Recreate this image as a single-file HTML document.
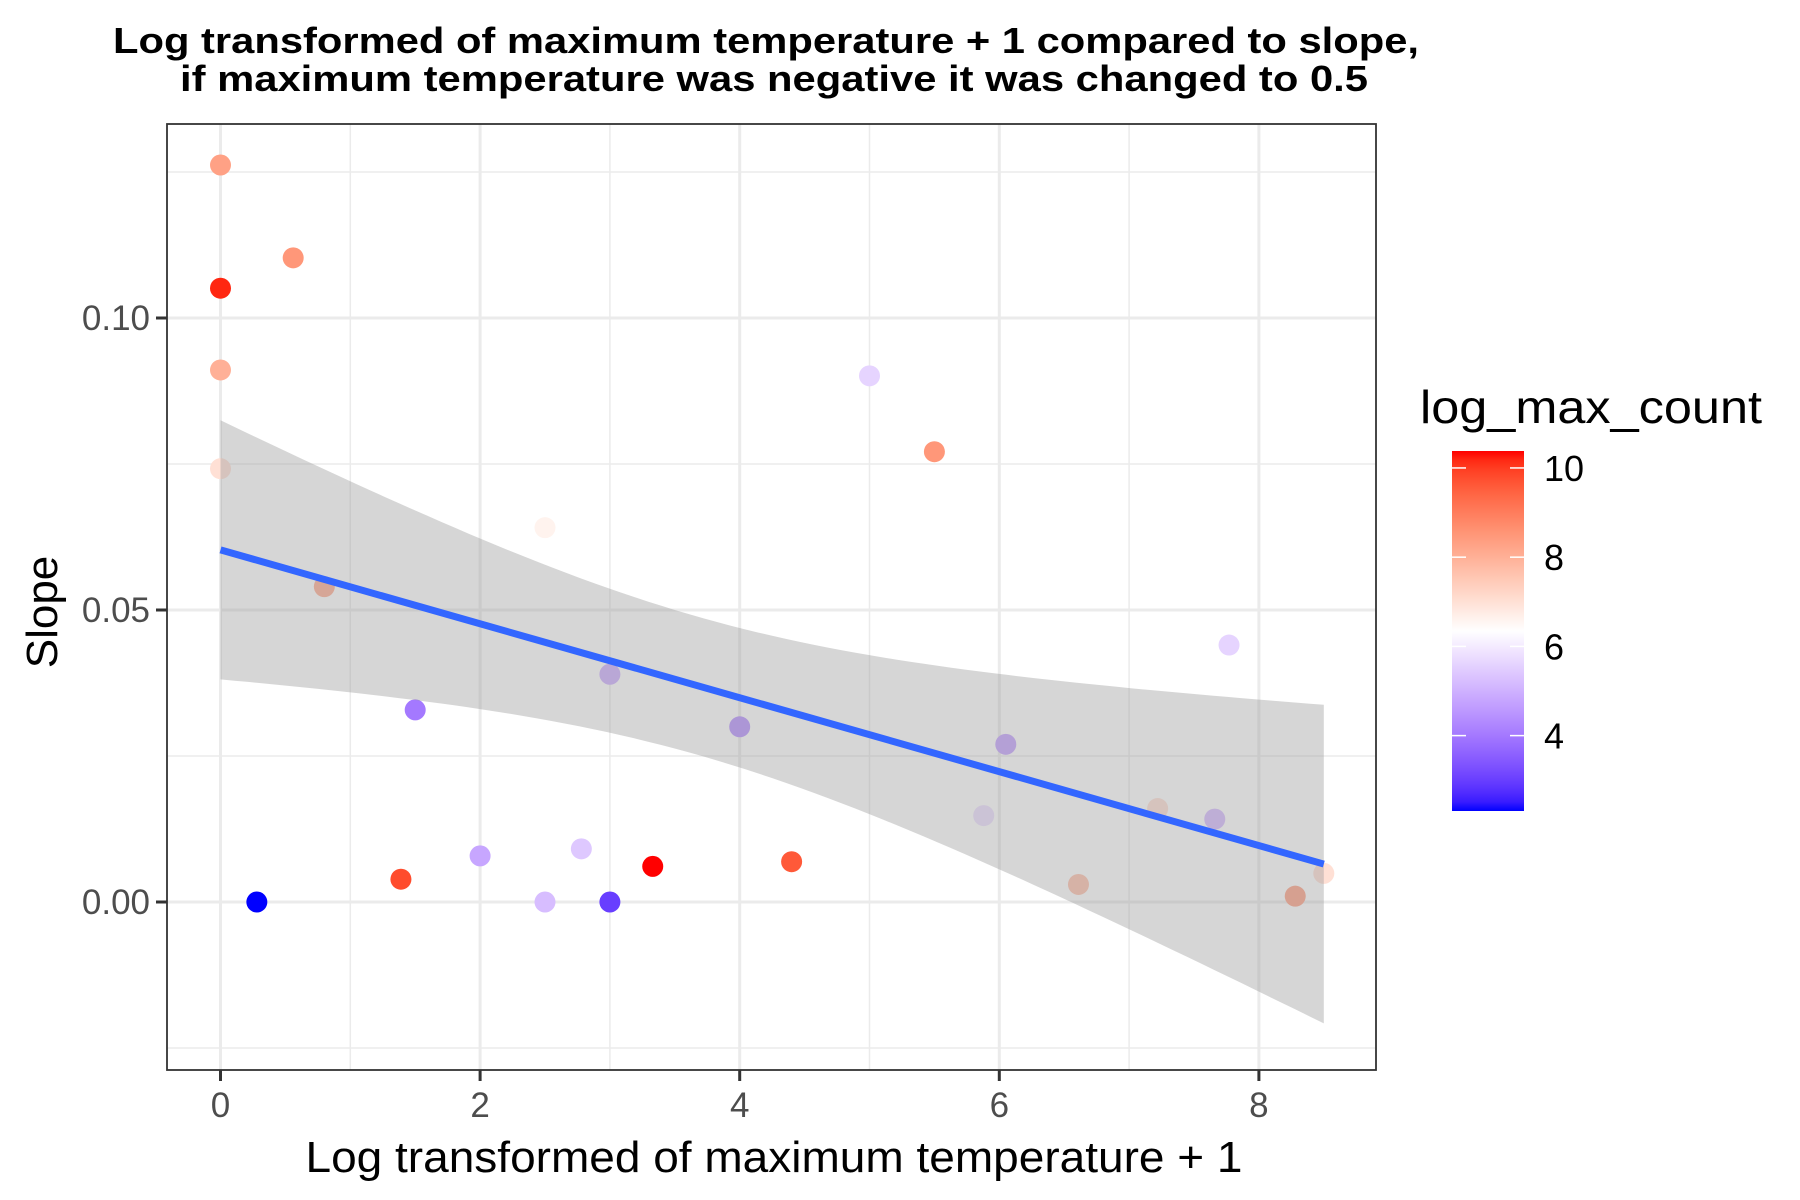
<!DOCTYPE html>
<html><head><meta charset="utf-8"><style>
html,body{margin:0;padding:0;background:#fff;}
svg{display:block;font-family:"Liberation Sans",Arial,sans-serif;}
</style></head><body>
<svg id="chart" width="1800" height="1200" viewBox="0 0 1800 1200" xmlns="http://www.w3.org/2000/svg">
<rect width="1800" height="1200" fill="#fff"/>
<text x="766" y="53" text-anchor="middle" font-size="36" font-weight="bold" textLength="1306" lengthAdjust="spacingAndGlyphs">Log transformed of maximum temperature + 1 compared to slope,</text>
<text x="774" y="91" text-anchor="middle" font-size="36" font-weight="bold" textLength="1188" lengthAdjust="spacingAndGlyphs">if maximum temperature was negative it was changed to 0.5</text>
<g id="grid"></g>
<g id="points"></g>
<g id="fit"></g>
<rect x="167" y="124" width="1209" height="946" fill="none" stroke="#333" stroke-width="1.8"/>
<g id="axes"></g>
<text x="774" y="1172" text-anchor="middle" font-size="44" textLength="937" lengthAdjust="spacingAndGlyphs">Log transformed of maximum temperature + 1</text>
<text x="0" y="0" transform="translate(57,612) rotate(-90)" text-anchor="middle" font-size="44">Slope</text>
<g id="legend">
<text x="1420" y="423" font-size="46" textLength="342" lengthAdjust="spacingAndGlyphs">log_max_count</text>
</g>
</svg>
<script>
const xVals = [0,0.56,0,0,0,2.5,0.8,1.5,3.0,4.0,5.0,5.5,6.05,5.88,6.61,7.22,7.66,7.77,8.28,8.5,0.28,1.39,2.0,2.5,2.78,3.0,3.33,4.4];
const yVals = [0.1262,0.1103,0.1051,0.0911,0.0742,0.0641,0.054,0.0329,0.039,0.030,0.0901,0.0771,0.027,0.0148,0.003,0.016,0.0142,0.044,0.001,0.0049,0,0.0039,0.0079,0,0.0091,0,0.0061,0.0069];
const colorVals = [8.3,8.5,10.2,8.0,7.0,6.6,8.0,4.0,5.0,4.5,5.6,8.5,4.8,5.8,7.6,7.0,5.2,5.6,8.2,7.0,2.3,9.8,4.8,5.2,5.4,3.0,10.4,9.6];
const xTicks = [0,2,4,6,8];
const xMinor = [1,3,5,7];
const yTicks = [0,0.05,0.10];
const yTickLabels = ["0.00","0.05","0.10"];
const yMinor = [-0.025,0.025,0.075,0.125];
const fitCoef = [0.0603,-0.00633];
const fitSe = [0.00014,0.000026,3.68];
const fitRange = [0,8.5];
const colorRange = [2.31,10.38];
const colorMid = 6.345;
const legendTicks = [4,6,8,10];

const NS="http://www.w3.org/2000/svg";
const L=167,R=1376,T=124,B=1070;
const xs=v=>220.5+v*129.8;
const ys=v=>902-v*5840;
function mk(tag,attrs,parent){const e=document.createElementNS(NS,tag);for(const k in attrs)e.setAttribute(k,attrs[k]);parent.appendChild(e);return e;}

function toLin(c){c/=255;return c<=0.04045?c/12.92:Math.pow((c+0.055)/1.055,2.4);}
function fromLin(c){c=c<=0.0031308?12.92*c:1.055*Math.pow(c,1/2.4)-0.055;return Math.max(0,Math.min(255,Math.round(c*255)));}
function rgb2lab(r,g,b){r=toLin(r);g=toLin(g);b=toLin(b);
 let X=(r*0.4124+g*0.3576+b*0.1805)/0.95047,Y=(r*0.2126+g*0.7152+b*0.0722),Z=(r*0.0193+g*0.1192+b*0.9505)/1.08883;
 const f=t=>t>0.008856?Math.cbrt(t):7.787*t+16/116;X=f(X);Y=f(Y);Z=f(Z);return [116*Y-16,500*(X-Y),200*(Y-Z)];}
function lab2rgb(l,a,bb){let Y=(l+16)/116,X=a/500+Y,Z=Y-bb/200;
 const f=t=>t*t*t>0.008856?t*t*t:(t-16/116)/7.787;X=f(X)*0.95047;Y=f(Y);Z=f(Z)*1.08883;
 const r=X*3.2406+Y*-1.5372+Z*-0.4986,g=X*-0.9689+Y*1.8758+Z*0.0415,b=X*0.0557+Y*-0.2040+Z*1.0570;
 return `rgb(${fromLin(r)},${fromLin(g)},${fromLin(b)})`;}
const labLow=rgb2lab(0,0,255),labMid=rgb2lab(255,255,255),labHigh=rgb2lab(255,0,0);
function colorOf(v){const d=Math.max(colorRange[1]-colorMid,colorMid-colorRange[0]);
 let t=(v-colorMid)/d;t=Math.max(-1,Math.min(1,t));const end=t<0?labLow:labHigh;const u=Math.abs(t);
 return lab2rgb(labMid[0]+(end[0]-labMid[0])*u,labMid[1]+(end[1]-labMid[1])*u,labMid[2]+(end[2]-labMid[2])*u);}

const grid=document.getElementById('grid');
mk('rect',{x:L,y:T,width:R-L,height:B-T,fill:'#fff'},grid);
yMinor.forEach(v=>{const e=mk('line',{x1:L,x2:R,y1:ys(v),y2:ys(v),stroke:'#ebebeb','stroke-width':1.5},grid);

});
xMinor.forEach(v=>{const e=mk('line',{x1:xs(v),x2:xs(v),y1:T,y2:B,stroke:'#ebebeb','stroke-width':1.5},grid);

});
yTicks.forEach(v=>{const e=mk('line',{x1:L,x2:R,y1:ys(v),y2:ys(v),stroke:'#ebebeb','stroke-width':3},grid);

});
xTicks.forEach(v=>{const e=mk('line',{x1:xs(v),x2:xs(v),y1:T,y2:B,stroke:'#ebebeb','stroke-width':3},grid);

});

const pts=document.getElementById('points');
xVals.forEach((x,i)=>{const c=mk('circle',{cx:xs(x),cy:ys(yVals[i]),r:10.5,fill:colorOf(colorVals[i])},pts);

});

const fit=document.getElementById('fit');
const N=80;let up=[],lo=[];
for(let i=0;i<=N;i++){const x=fitRange[0]+(fitRange[1]-fitRange[0])*i/N;const yv=fitCoef[0]+fitCoef[1]*x;
 const h=Math.sqrt(fitSe[0]+fitSe[1]*(x-fitSe[2])*(x-fitSe[2]));up.push([xs(x),ys(yv+h)]);lo.push([xs(x),ys(yv-h)]);}
const poly=up.concat(lo.reverse()).map(p=>p[0].toFixed(1)+','+p[1].toFixed(1)).join(' ');
const rib=mk('polygon',{points:poly,fill:'#999999','fill-opacity':0.4},fit);


const ln=mk('line',{x1:xs(fitRange[0]),y1:ys(fitCoef[0]+fitCoef[1]*fitRange[0]),x2:xs(fitRange[1]),y2:ys(fitCoef[0]+fitCoef[1]*fitRange[1]),stroke:'#3366FF','stroke-width':7},fit);



const ax=document.getElementById('axes');
xTicks.forEach(v=>{const t=mk('line',{x1:xs(v),x2:xs(v),y1:B,y2:B+11,stroke:'#333','stroke-width':3},ax);


const l=mk('text',{x:xs(v),y:1117,'text-anchor':'middle','font-size':35,fill:'#4d4d4d'},ax);l.textContent=String(v);

});
yTicks.forEach((v,i)=>{const t=mk('line',{x1:L-11,x2:L,y1:ys(v),y2:ys(v),stroke:'#333','stroke-width':3},ax);


const l=mk('text',{x:150,y:ys(v)+12,'text-anchor':'end','font-size':35,fill:'#4d4d4d'},ax);l.textContent=yTickLabels[i];

});

const lg=document.getElementById('legend');
const bx=1452,bw=72,bTop=451,bBot=811;
const lyS=v=>bTop+(colorRange[1]-v)/(colorRange[1]-colorRange[0])*(bBot-bTop);
const defs=mk('defs',{},lg);const grad=mk('linearGradient',{id:'cbar',x1:0,y1:0,x2:0,y2:1},defs);
for(let i=0;i<=40;i++){const v=colorRange[1]-(colorRange[1]-colorRange[0])*i/40;mk('stop',{offset:(i/40),'stop-color':colorOf(v)},grad);}
const bar=mk('rect',{x:bx,y:bTop,width:bw,height:bBot-bTop,fill:'url(#cbar)'},lg);


legendTicks.forEach(v=>{const y=lyS(v);
mk('line',{x1:bx,x2:bx+14,y1:y,y2:y,stroke:'#fff','stroke-width':1.5},lg);
mk('line',{x1:bx+bw-14,x2:bx+bw,y1:y,y2:y,stroke:'#fff','stroke-width':1.5},lg);
const l=mk('text',{x:1544,y:y+13,'font-size':36,fill:'#000'},lg);l.textContent=String(v);

});
</script>
</body></html>
